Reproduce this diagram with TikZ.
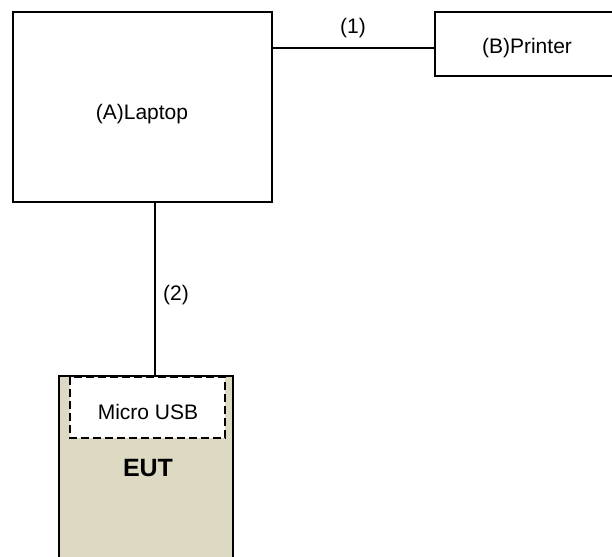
\documentclass[tikz,border=0pt]{standalone}
\usepackage{fontspec}
\setmainfont{Liberation Sans}
\definecolor{eutfill}{HTML}{DDD9C3}
\begin{document}
\begin{tikzpicture}[x=1pt,y=-1pt,
  box/.style={draw=black,line width=1.7pt,fill=white},
  lbl/.style={font=\fontsize{21}{24}\selectfont,inner sep=0pt},
  wire/.style={line width=1.6pt}]
\clip (0,0) rectangle (612,556);
\useasboundingbox (0,0) rectangle (612,556);
% boxes
\draw[box] (13,12) rectangle (272,202);
\node[lbl] (lap) at (142,114) {(A)Laptop};
\coordinate (lapR) at (272,48);
\coordinate (lapB) at (155,202);
\draw[box] (435,12) rectangle (616,76);
\node[lbl] (prn) at (527,48) {(B)Printer};
\coordinate (prnL) at (435,48);
\draw[box,fill=eutfill] (59,376) rectangle (233,562);
\coordinate (eutT) at (155,376);
\draw[draw=black,line width=2.2pt,dash pattern=on 8pt off 4pt,fill=white] (70,377) rectangle (225,438);
\node[lbl] (usb) at (148,412) {Micro USB};
\node[lbl,font=\fontsize{25}{28}\selectfont\bfseries] (eut) at (148,468) {EUT};
% wires
\draw[wire] (lapR) -- (prnL);
\node[lbl] (l1) at (353,28) {(1)};
\draw[wire] (lapB) -- (eutT);
\node[lbl] (l2) at (176,295) {(2)};
\end{tikzpicture}
\end{document}
